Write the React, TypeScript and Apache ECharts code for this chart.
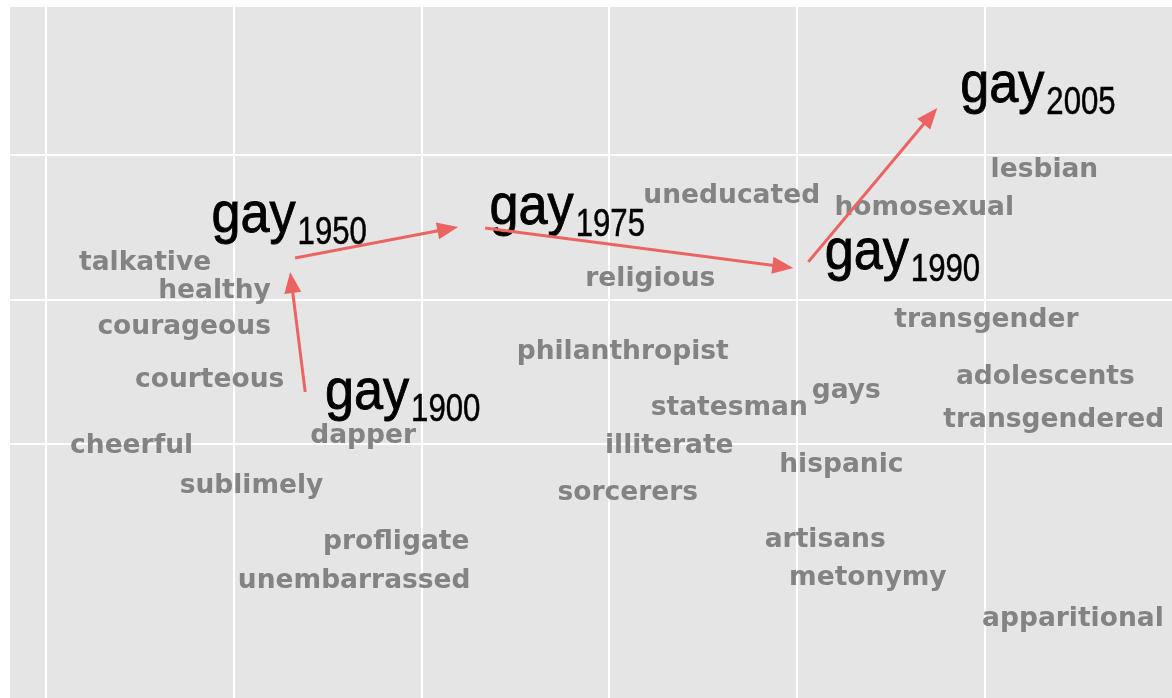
import React, { useEffect, useRef } from "react";
import * as echarts from "echarts";

// Neighbour words (grey labels), positions in data units
const wordLabels = [
  "talkative", "healthy", "courageous", "courteous", "cheerful", "sublimely",
  "dapper", "profligate", "unembarrassed", "uneducated", "religious",
  "philanthropist", "statesman", "illiterate", "sorcerers", "homosexual",
  "lesbian", "transgender", "gays", "adolescents", "transgendered",
  "hispanic", "artisans", "metonymy", "apparitional",
];
const wordX = [
  0.528, 0.898, 0.736, 0.872, 0.456, 1.095,
  1.690, 1.866, 1.642, 3.654, 3.220,
  3.073, 3.641, 3.321, 3.100, 4.680,
  5.320, 5.011, 4.264, 5.325, 5.370,
  4.238, 4.152, 4.379, 5.472,
];
const wordY = [
  1.273, 1.073, 0.830, 0.457, 0.0, -0.277,
  0.069, -0.664, -0.934, 1.730, 1.156,
  0.651, 0.263, 0.0, -0.325, 1.647,
  1.910, 0.872, 0.381, 0.478, 0.180,
  -0.131, -0.644, -0.913, -1.197,
];

// "gay" through the decades
const gayYears = ["1900", "1950", "1975", "1990", "2005"];
const gayX = [1.940, 1.335, 2.817, 4.603, 5.325];
const gayY = [0.360, 1.585, 1.640, 1.329, 2.484];

// Arrows between successive decades
const arrowFromX = [1.381, 1.327, 2.340, 4.062];
const arrowFromY = [0.360, 1.287, 1.495, 1.260];
const arrowToX = [1.301, 2.196, 3.982, 4.749];
const arrowToY = [1.190, 1.502, 1.218, 2.325];

// Axis breaks and limits
const xBreaks = [0, 1, 2, 3, 4, 5];
const yBreaks = [0, 1, 2];
const xLimits = [-0.192, 6.0];
const yLimits = [-1.758, 3.024];

const ARROW_COLOR = "#EB6461";
const WORD_COLOR = "#838383";

export default function App() {
  const ref = useRef<HTMLDivElement>(null);

  useEffect(() => {
    if (!ref.current) return;
    const chart = echarts.init(ref.current, undefined, { renderer: "svg" });

    const option: any = {
      animation: false,
      grid: {
        left: 10,
        top: 7,
        right: 0,
        bottom: 0,
        show: true,
        backgroundColor: "#E5E5E5",
        borderWidth: 0,
      },
      xAxis: {
        type: "value",
        min: xLimits[0],
        max: xLimits[1],
        axisLine: { show: false },
        axisTick: { show: false },
        axisLabel: { show: false },
        splitLine: { show: false },
      },
      yAxis: {
        type: "value",
        min: yLimits[0],
        max: yLimits[1],
        axisLine: { show: false },
        axisTick: { show: false },
        axisLabel: { show: false },
        splitLine: { show: false },
      },
      series: [
        {
          type: "line",
          data: [],
          z: 1,
          silent: true,
          markLine: {
            z: 1,
            silent: true,
            symbol: ["none", "none"],
            label: { show: false },
            lineStyle: { color: "#FFFFFF", width: 2, type: "solid" },
            data: [
              ...xBreaks.map((v) => ({ xAxis: v })),
              ...yBreaks.map((v) => ({ yAxis: v })),
            ],
          },
        },
        {
          type: "custom",
          z: 10,
          silent: true,
          clip: false,
          data: wordX.map((x, i) => [x, wordY[i]]),
          renderItem: (params: any, api: any) => {
            const p = api.coord([api.value(0), api.value(1)]);
            return {
              type: "text",
              x: p[0],
              y: p[1],
              style: {
                text: wordLabels[params.dataIndex],
                fill: WORD_COLOR,
                fontFamily: "DejaVu Sans",
                fontWeight: "bold",
                fontSize: 26.5,
                align: "center",
                verticalAlign: "middle",
              },
            };
          },
        },
        {
          type: "custom",
          z: 11,
          silent: true,
          clip: false,
          data: gayX.map((x, i) => [x, gayY[i]]),
          renderItem: (params: any, api: any) => {
            const p = api.coord([api.value(0), api.value(1)]);
            return {
              type: "group",
              children: [
                {
                  type: "text",
                  x: p[0] - 1,
                  y: p[1] - 3,
                  scaleX: 0.9,
                  style: {
                    text: "gay",
                    fill: "#000000",
                    stroke: "#000000",
                    lineWidth: 0.9,
                    fontFamily: "Liberation Sans",
                    fontSize: 58,
                    align: "right",
                    verticalAlign: "middle",
                  },
                },
                {
                  type: "text",
                  x: p[0] + 1,
                  y: p[1] + 15.5,
                  scaleX: 0.8,
                  style: {
                    text: gayYears[params.dataIndex],
                    fill: "#000000",
                    stroke: "#000000",
                    lineWidth: 0.5,
                    fontFamily: "Liberation Sans",
                    fontSize: 39,
                    align: "left",
                    verticalAlign: "middle",
                  },
                },
              ],
            };
          },
        },
        {
          type: "custom",
          z: 12,
          silent: true,
          clip: false,
          encode: { x: [0, 2], y: [1, 3] },
          data: arrowFromX.map((x, i) => [x, arrowFromY[i], arrowToX[i], arrowToY[i]]),
          renderItem: (params: any, api: any) => {
            const a = api.coord([api.value(0), api.value(1)]);
            const b = api.coord([api.value(2), api.value(3)]);
            const dx = b[0] - a[0];
            const dy = b[1] - a[1];
            const len = Math.sqrt(dx * dx + dy * dy) || 1;
            const ux = dx / len;
            const uy = dy / len;
            const nx = -uy;
            const ny = ux;
            const headLen = 21;
            const headHalf = 8.5;
            const bx = b[0] - ux * headLen;
            const by = b[1] - uy * headLen;
            return {
              type: "group",
              children: [
                {
                  type: "line",
                  shape: { x1: a[0], y1: a[1], x2: bx + ux * 2, y2: by + uy * 2 },
                  style: { stroke: ARROW_COLOR, lineWidth: 3, lineCap: "butt" },
                },
                {
                  type: "polygon",
                  shape: {
                    points: [
                      [b[0], b[1]],
                      [bx + nx * headHalf, by + ny * headHalf],
                      [bx - nx * headHalf, by - ny * headHalf],
                    ],
                  },
                  style: { fill: ARROW_COLOR },
                },
              ],
            };
          },
        },
      ],
    };

    chart.setOption(option);
    return () => {
      chart.dispose();
    };
  }, []);

  return (
    <div
      ref={ref}
      style={{ position: "fixed", left: 0, top: 0, width: 1172, height: 698 }}
    />
  );
}
